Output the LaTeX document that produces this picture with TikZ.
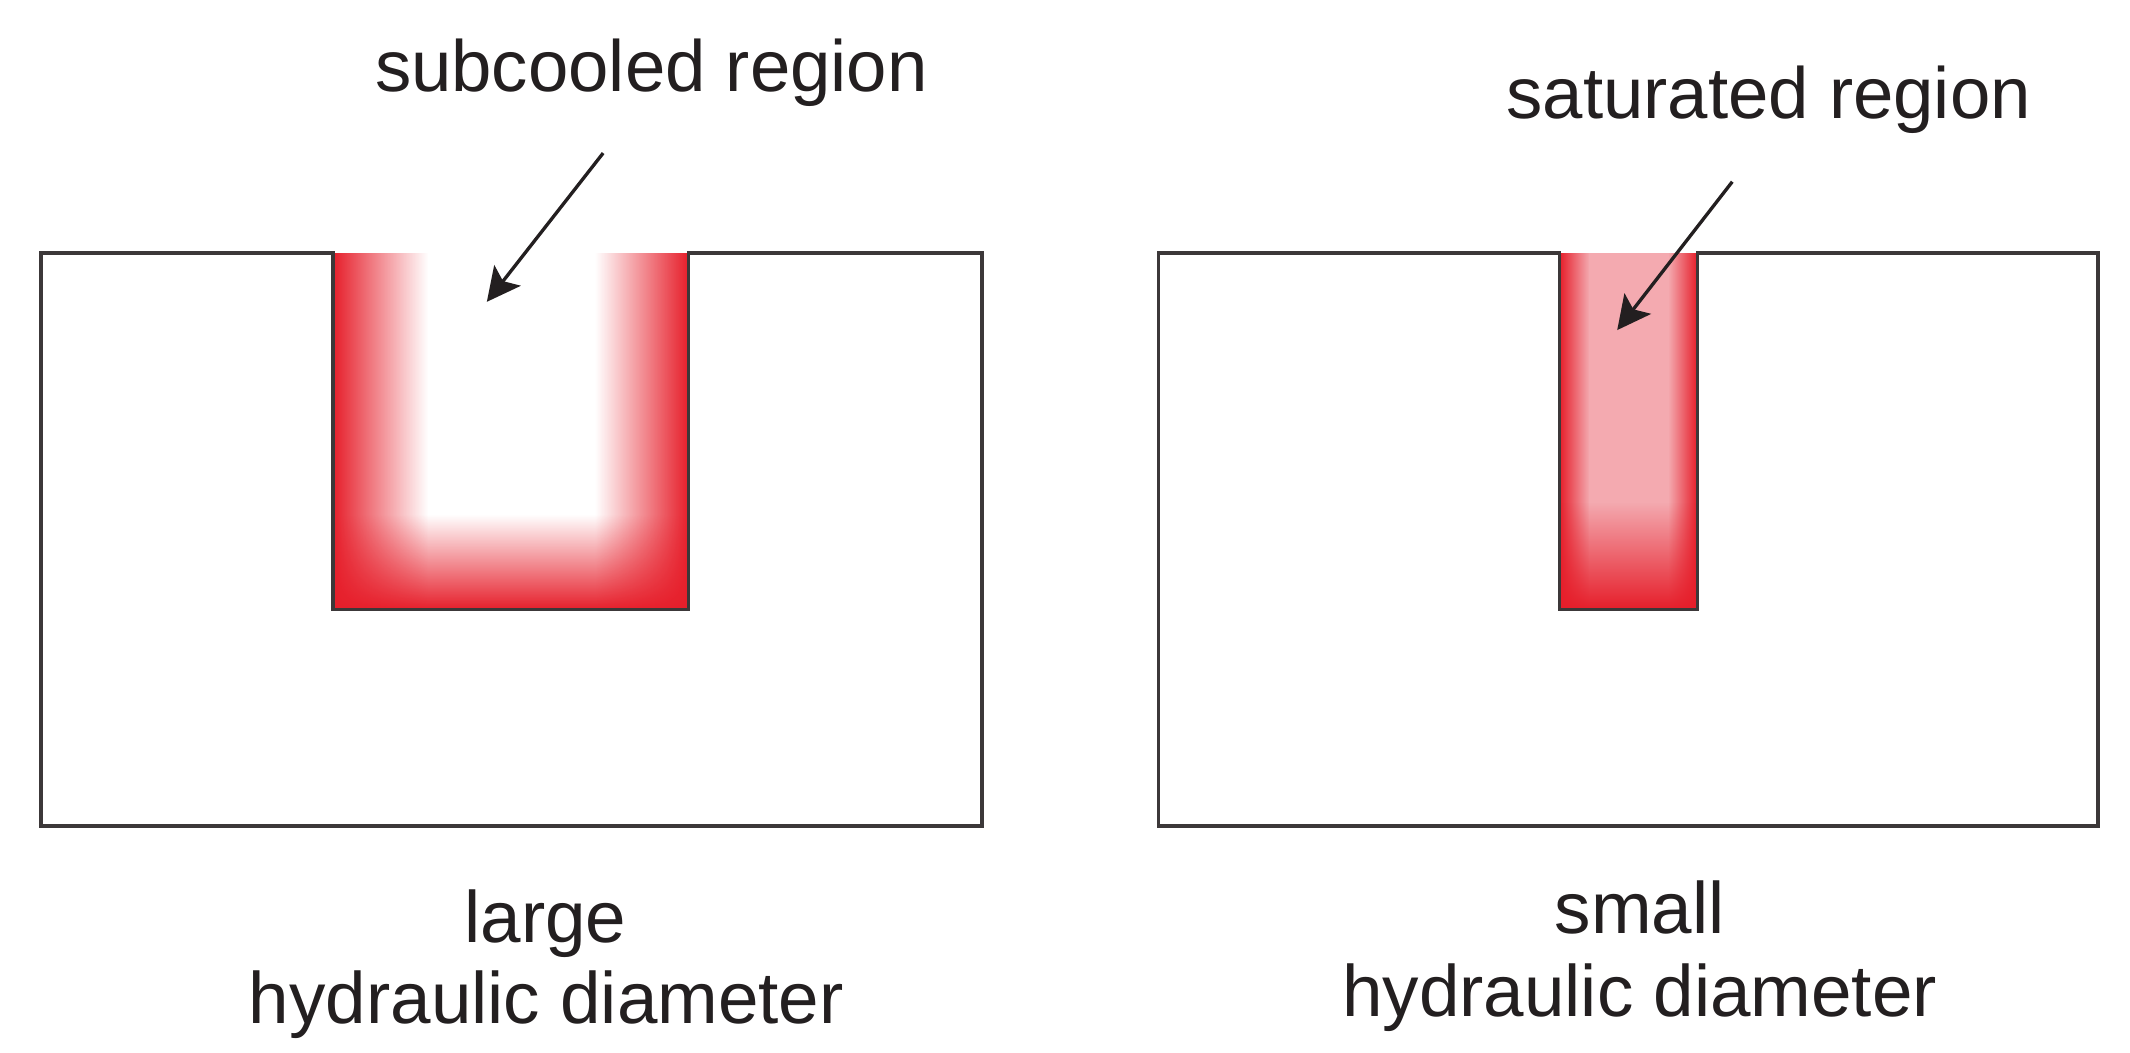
\documentclass[tikz,border=0pt]{standalone}
\usepackage{fontspec}
\setmainfont{Liberation Sans}
\usetikzlibrary{arrows.meta,fadings}
\definecolor{inkc}{RGB}{35,31,32}
\definecolor{linec}{RGB}{60,56,57}
\definecolor{redc}{RGB}{230,30,42}
\definecolor{pinkc}{RGB}{244,170,176}
\tikzfading[name=fadeE, left color=transparent!0, right color=transparent!100]
\tikzfading[name=fadeW, left color=transparent!100, right color=transparent!0]
\tikzfading[name=fadeN, bottom color=transparent!0, top color=transparent!100]
\tikzset{
  boxline/.style={draw=linec, line width=0.75pt, line join=miter},
  toplabel/.style={anchor=base, inner sep=0pt, text=inkc, font=\fontsize{15.2}{18}\selectfont},
  botlabel/.style={anchor=base, inner sep=0pt, text=inkc, font=\fontsize{15.25}{18}\selectfont},
  pointer/.style={draw=inkc, line width=0.7pt, -{Stealth[length=7pt, width=7pt, inset=1.5pt]}},
}
\begin{document}
\begin{tikzpicture}
\useasboundingbox (0,0) rectangle (15.68,7.746);
% left channel (large)
\fill[redc, path fading=fadeE] (2.451,3.259) rectangle (3.15,5.883);
\fill[redc, path fading=fadeW] (4.38,3.259) rectangle (5.068,5.883);
\fill[redc, path fading=fadeN] (2.451,3.259) rectangle (5.068,3.96);
\draw[boxline] (0.302,5.883) -- (2.451,5.883) -- (2.451,3.259) -- (5.068,3.259) -- (5.068,5.883) -- (7.229,5.883) -- (7.229,1.666) -- (0.302,1.666) -- cycle;
% right channel (small)
\fill[pinkc] (11.48,3.259) rectangle (12.495,5.883);
\fill[redc, path fading=fadeE] (11.48,3.259) rectangle (11.7,5.883);
\fill[redc, path fading=fadeW] (12.28,3.259) rectangle (12.495,5.883);
\fill[redc, path fading=fadeN] (11.48,3.259) rectangle (12.495,4.05);
\draw[boxline] (8.528,5.883) -- (11.48,5.883) -- (11.48,3.259) -- (12.495,3.259) -- (12.495,5.883) -- (15.446,5.883) -- (15.446,1.666) -- (8.528,1.666) -- cycle;
% labels
\node[toplabel] (sub) at (4.795,7.069) {subcooled region};
\node[toplabel] (sat) at (13.02,6.876) {saturated region};
\node[botlabel] (large) at (4.015,0.81) {large};
\node[botlabel] (hdl) at (4.022,0.215) {hydraulic diameter};
\node[botlabel] (small) at (12.07,0.876) {small};
\node[botlabel] (hds) at (12.07,0.266) {hydraulic diameter};
% arrows
\coordinate (a1s) at (4.44,6.619);
\coordinate (a1e) at (3.584,5.524);
\coordinate (a2s) at (12.752,6.408);
\coordinate (a2e) at (11.905,5.316);
\draw[pointer] (a1s) -- (a1e);
\draw[pointer] (a2s) -- (a2e);
\end{tikzpicture}
\end{document}
